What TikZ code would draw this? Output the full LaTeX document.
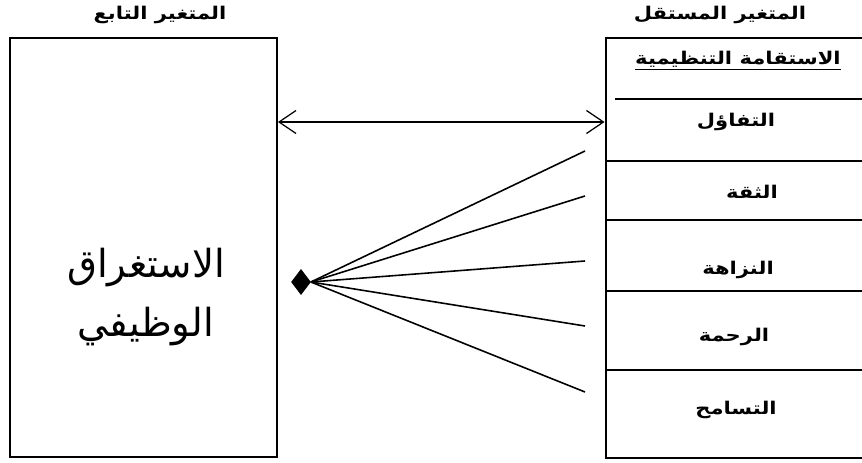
\documentclass[tikz,border=0pt]{standalone}
\usepackage{fontspec}
\newfontfamily\arabicfont[Script=Arabic]{DejaVu Sans}
\newfontfamily\arabicwide[Script=Arabic,FakeStretch=1.2]{DejaVu Sans}
\TeXXeTstate=1
\usetikzlibrary{shapes.geometric,arrows.meta}
\begin{document}
\begin{tikzpicture}[x=0.02cm,y=-0.02cm,
  >={Straight Barb[length=3.4mm,width=4.6mm]},
  box/.style={draw,line width=1.1pt,inner sep=0},
  lbl/.style={font=\arabicwide\bfseries\fontsize{10}{12}\selectfont,inner sep=1pt},
  fan/.style={line width=0.9pt}]
\useasboundingbox (0,0) rectangle (862,463);
% boxes
\node at (143.5,247.5) [box,minimum width=5.34cm,minimum height=8.38cm](lbox){};
\node at (743,248) [box,minimum width=5.5cm,minimum height=8.4cm](rbox){};
\node at (146,297) [align=center,font=\arabicfont\fontsize{22}{34}\selectfont](dv){\beginR الاستغراق\endR\\\beginR الوظيفي\endR};
% titles
\node at (160,15) [lbl](tdv){\beginR المتغير التابع\endR};
\node at (720,15) [lbl](tiv){\beginR المتغير المستقل\endR};
% rows of the right box
\draw[line width=0.9pt] (615,99) -- (880,99);
\foreach \y in {161,220,291,370}
  \draw[line width=0.9pt] (605,\y) -- (880,\y);
\node at (738,61) [lbl](hdr){\underline{\beginR الاستقامة التنظيمية\endR}};
\node at (736,122) [lbl](d1){\beginR التفاؤل\endR};
\node at (752,192) [lbl](d2){\beginR الثقة\endR};
\node at (738,270) [lbl](d3){\beginR النزاهة\endR};
\node at (734,337) [lbl](d4){\beginR الرحمة\endR};
\node at (736,410) [lbl](d5){\beginR التسامح\endR};
% relations
\draw[<->,line width=0.7pt] (lbox.east |- d1) -- (rbox.west |- d1);
\node at (301,282) [draw,fill=black,shape=diamond,inner sep=0,minimum width=0.38cm,minimum height=0.5cm](dia){};
\coordinate (e1) at (585,151);
\coordinate (e2) at (585,196);
\coordinate (e3) at (585,261);
\coordinate (e4) at (585,326);
\coordinate (e5) at (585,392);
\foreach \e in {e1,e2,e3,e4,e5}
  \draw[fan] (dia.east) -- (\e);
\end{tikzpicture}
\end{document}
